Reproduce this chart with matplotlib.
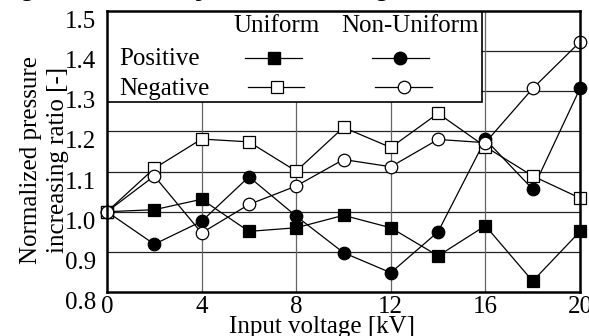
import matplotlib
matplotlib.use("Agg")
import matplotlib.pyplot as plt
from matplotlib.patches import Rectangle

plt.rcParams['font.family'] = ['Liberation Serif', 'DejaVu Serif']
plt.rcParams['font.size'] = 18

# input voltage [kV]
voltage = [0, 2, 4, 6, 8, 10, 12, 14, 16, 18, 20]

# normalized pressure increasing ratio [-]
pos_uniform = [1.00, 1.005, 1.031, 0.951, 0.960, 0.991, 0.960, 0.890, 0.965, 0.827, 0.951]
pos_nonuniform = [1.00, 0.919, 0.976, 1.087, 0.989, 0.898, 0.848, 0.950, 1.180, 1.056, 1.307]
neg_uniform = [1.00, 1.108, 1.181, 1.174, 1.101, 1.210, 1.160, 1.245, 1.162, 1.089, 1.034]
neg_nonuniform = [1.00, 1.089, 0.947, 1.018, 1.064, 1.130, 1.112, 1.180, 1.172, 1.307, 1.423]

x_ticks = [0, 4, 8, 12, 16, 20]
y_ticks = [0.8, 0.9, 1.0, 1.1, 1.2, 1.3, 1.4, 1.5]

fig = plt.figure(figsize=(5.89, 3.36), dpi=100)
ax = fig.add_axes([107 / 589, 44 / 336, 473 / 589, 281 / 336])

ax.set_xlim(0, 20)
ax.set_ylim(0.8, 1.5)
ax.set_xticks(x_ticks)
ax.set_yticks(y_ticks)
ax.set_xticklabels([str(t) for t in x_ticks])
ax.set_yticklabels(["%.1f" % t for t in y_ticks], va='top')
ax.tick_params(length=0, pad=8)
ax.tick_params(axis='x', pad=3)

# grid
for yv in y_ticks[1:-1]:
    ax.axhline(yv, color='#222222', lw=0.9, zorder=1)
for xv in x_ticks[1:-1]:
    ax.axvline(xv, color='#666666', lw=0.9, zorder=1)

for s in ax.spines.values():
    s.set_linewidth(1.8)
    s.set_zorder(5)

style = dict(color='black', lw=0.9, zorder=3, clip_on=False, markeredgecolor='black', markeredgewidth=0.9)
ax.plot(voltage, pos_uniform, marker='s', ms=8, markerfacecolor='black', **style)
ax.plot(voltage, pos_nonuniform, marker='o', ms=9, markerfacecolor='black', **style)
ax.plot(voltage, neg_uniform, marker='s', ms=8, markerfacecolor='white', **style)
ax.plot(voltage, neg_nonuniform, marker='o', ms=9, markerfacecolor='white', **style)

ax.set_xlabel("Input voltage [kV]", labelpad=0)
ax.xaxis.set_label_coords(0.455, -0.085)
ax.set_ylabel("Normalized pressure\nincreasing ratio [-]", linespacing=1.3, labelpad=0)
ax.yaxis.set_label_coords(-0.08, 0.47)

# hand made legend box
ax.add_patch(Rectangle((0, 1.273), 15.87, 0.227, facecolor='white', edgecolor='black',
                       lw=1.2, zorder=4))
ax.text(7.17, 1.462, "Uniform", ha='center', va='center', zorder=6)
ax.text(12.8, 1.462, "Non-Uniform", ha='center', va='center', zorder=6)
ax.text(0.5, 1.38, "Positive", ha='left', va='center', zorder=6)
ax.text(0.5, 1.305, "Negative", ha='left', va='center', zorder=6)
ax.plot([5.82, 8.23], [1.383, 1.383], color='black', lw=0.9, zorder=6)
ax.plot([7.05], [1.383], marker='s', ms=8, color='black', zorder=7)
ax.plot([11.2, 13.6], [1.383, 1.383], color='black', lw=0.9, zorder=6)
ax.plot([12.4], [1.383], marker='o', ms=9, color='black', zorder=7)
ax.plot([5.95, 8.35], [1.31, 1.31], color='black', lw=0.9, zorder=6)
ax.plot([7.17], [1.31], marker='s', ms=8, markerfacecolor='white', markeredgecolor='black',
        markeredgewidth=0.9, zorder=7)
ax.plot([11.35, 13.75], [1.31, 1.31], color='black', lw=0.9, zorder=6)
ax.plot([12.55], [1.31], marker='o', ms=9, markerfacecolor='white', markeredgecolor='black',
        markeredgewidth=0.9, zorder=7)

# caption cut by the top edge
fig.text(0.0, 1.0 + 4 / 336, "Fig. 8  Normalized pressure increasing ratio", ha='left',
         va='baseline', fontsize=18)

fig.savefig("out.png", dpi=100)
